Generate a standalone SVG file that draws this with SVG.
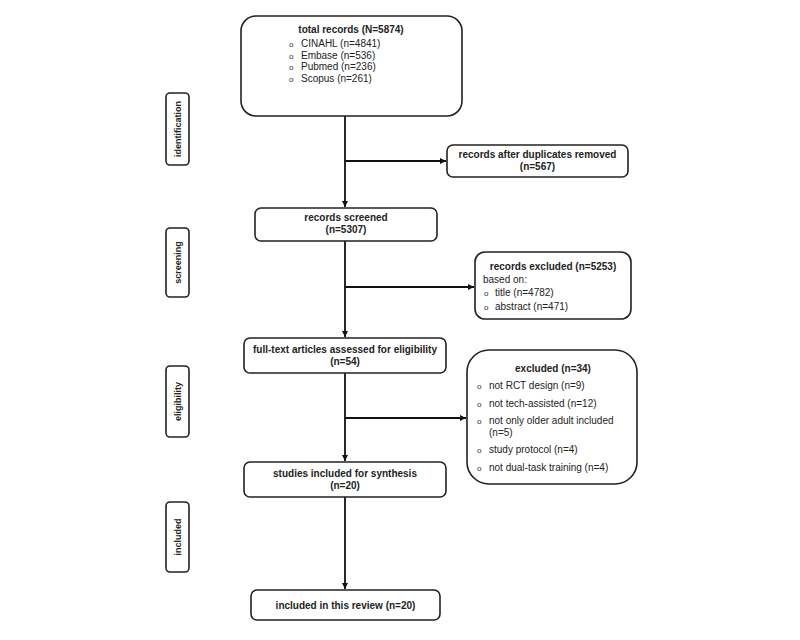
<svg xmlns="http://www.w3.org/2000/svg" width="800" height="640" viewBox="0 0 800 640">
<style>
.box{fill:#fff;stroke:#222;stroke-width:1.6}
.t{font-family:"Liberation Sans",Arial,sans-serif;font-size:10px;fill:#222}
.o{font-family:"Liberation Sans",Arial,sans-serif;font-size:8px;fill:#333}
.b{font-weight:bold}
.c{text-anchor:middle}
.side{font-family:"Liberation Sans",Arial,sans-serif;font-size:9px;font-weight:bold;fill:#222;text-anchor:middle}
.ln{stroke:#111;stroke-width:1.8;fill:none}
</style>
<defs>
<marker id="ah" viewBox="0 0 10 10" refX="10" refY="5" markerWidth="6" markerHeight="6" orient="auto" markerUnits="userSpaceOnUse">
<path d="M0,0 L10,5 L0,10 z" fill="#111"/>
</marker>
</defs>
<rect width="800" height="640" fill="#fff"/>
<g id="connectors">
<line class="ln" x1="345" y1="116" x2="345" y2="207" marker-end="url(#ah)"/>
<line class="ln" x1="345" y1="161" x2="446" y2="161" marker-end="url(#ah)"/>
<line class="ln" x1="345" y1="241" x2="345" y2="337" marker-end="url(#ah)"/>
<line class="ln" x1="345" y1="287" x2="474" y2="287" marker-end="url(#ah)"/>
<line class="ln" x1="345" y1="373" x2="345" y2="461" marker-end="url(#ah)"/>
<line class="ln" x1="345" y1="418" x2="466" y2="418" marker-end="url(#ah)"/>
<line class="ln" x1="345" y1="497" x2="345" y2="589" marker-end="url(#ah)"/>
</g>
<g id="side-identification">
<rect class="box" x="166" y="93" width="23" height="72" rx="4"/>
<text class="side" transform="translate(181,129) rotate(-90)">identification</text>
</g>
<g id="side-screening">
<rect class="box" x="166" y="228" width="23" height="69" rx="4"/>
<text class="side" transform="translate(181,262.5) rotate(-90)">screening</text>
</g>
<g id="side-eligibility">
<rect class="box" x="166" y="366" width="23" height="71" rx="4"/>
<text class="side" transform="translate(181,401.5) rotate(-90)">eligibility</text>
</g>
<g id="side-included">
<rect class="box" x="166" y="502" width="23" height="70" rx="4"/>
<text class="side" transform="translate(181,537) rotate(-90)">included</text>
</g>
<g id="total">
<rect class="box" x="241" y="16" width="221" height="100" rx="15"/>
<text class="t b c" x="351" y="33" font-size="11.5">total records (N=5874)</text>
<text class="o" x="289" y="47">o</text><text class="t" x="301" y="47">CINAHL (n=4841)</text>
<text class="o" x="289" y="58.5">o</text><text class="t" x="301" y="58.5">Embase (n=536)</text>
<text class="o" x="289" y="70">o</text><text class="t" x="301" y="70">Pubmed (n=236)</text>
<text class="o" x="289" y="81.5">o</text><text class="t" x="301" y="81.5">Scopus (n=261)</text>
</g>
<g id="duplicates">
<rect class="box" x="447" y="145" width="181" height="32" rx="6"/>
<text class="t b c" x="537.5" y="158">records after duplicates removed</text>
<text class="t b c" x="537.5" y="170">(n=567)</text>
</g>
<g id="screened">
<rect class="box" x="255" y="208" width="182" height="33" rx="6"/>
<text class="t b c" x="346" y="221">records screened</text>
<text class="t b c" x="346" y="233">(n=5307)</text>
</g>
<g id="excluded1">
<rect class="box" x="475" y="252" width="156" height="67" rx="10"/>
<text class="t b c" x="553" y="270">records excluded (n=5253)</text>
<text class="t" x="483" y="283">based on:</text>
<text class="o" x="484" y="296">o</text><text class="t" x="495" y="296">title (n=4782)</text>
<text class="o" x="484" y="310">o</text><text class="t" x="495" y="310">abstract (n=471)</text>
</g>
<g id="fulltext">
<rect class="box" x="244" y="338" width="202" height="35" rx="6"/>
<text class="t b c" x="345" y="353">full-text articles assessed for eligibility</text>
<text class="t b c" x="345" y="365">(n=54)</text>
</g>
<g id="excluded2">
<rect class="box" x="467" y="350" width="170" height="134" rx="22"/>
<text class="t b c" x="553" y="372">excluded (n=34)</text>
<text class="o" x="477" y="389">o</text><text class="t" x="489" y="389">not RCT design (n=9)</text>
<text class="o" x="477" y="406.5">o</text><text class="t" x="489" y="406.5">not tech-assisted (n=12)</text>
<text class="o" x="477" y="424">o</text><text class="t" x="489" y="424">not only older adult included</text>
<text class="t" x="489" y="435.5">(n=5)</text>
<text class="o" x="477" y="452.5">o</text><text class="t" x="489" y="452.5">study protocol (n=4)</text>
<text class="o" x="477" y="470.5">o</text><text class="t" x="489" y="470.5">not dual-task training (n=4)</text>
</g>
<g id="studies">
<rect class="box" x="244" y="462" width="202" height="35" rx="6"/>
<text class="t b c" x="345" y="477">studies included for synthesis</text>
<text class="t b c" x="345" y="489">(n=20)</text>
</g>
<g id="review">
<rect class="box" x="251" y="590" width="189" height="30" rx="6"/>
<text class="t b c" x="345.5" y="609">included in this review (n=20)</text>
</g>
</svg>
